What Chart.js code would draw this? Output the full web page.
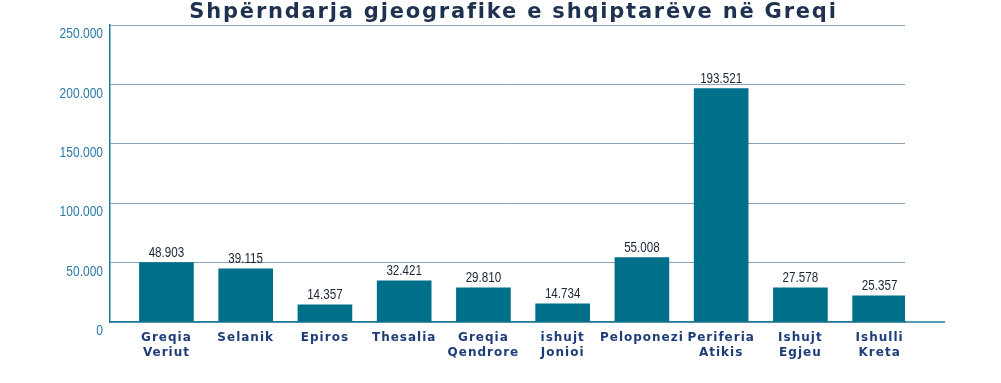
<!DOCTYPE html>
<html>
<head>
<meta charset="utf-8">
<script src="https://cdn.jsdelivr.net/npm/chart.js@4/dist/chart.umd.min.js"></script>
<style>
  html, body { margin: 0; padding: 0; background: #ffffff; }
  #wrap { width: 1001px; height: 383px; position: relative; }
</style>
</head>
<body>
<div id="wrap"><canvas id="c" width="1001" height="383"></canvas></div>
<script>
const titleText = 'Shpërndarja gjeografike e shqiptarëve në Greqi';
const categories = [
  ['Greqia', 'Veriut'], 'Selanik', 'Epiros', 'Thesalia', ['Greqia', 'Qendrore'],
  ['ishujt', 'Jonioi'], 'Peloponezi', ['Periferia', 'Atikis'], ['Ishujt', 'Egjeu'], ['Ishulli', 'Kreta']
];
// bar heights as drawn in the picture
const barValues = [50000, 44800, 14500, 34700, 28800, 15400, 54300, 196600, 28800, 22100];
// numbers printed above the bars
const valueLabels = ['48.903', '39.115', '14.357', '32.421', '29.810', '14.734', '55.008', '193.521', '27.578', '25.357'];
const yTicks = [0, 50000, 100000, 150000, 200000, 250000];

const fmt = v => String(v).replace(/\B(?=(\d{3})+(?!\d))/g, '.');
const NARROW = 0.8;

const valueLabelPlugin = {
  id: 'valueLabels',
  afterDatasetsDraw(chart) {
    const ctx = chart.ctx;
    const meta = chart.getDatasetMeta(0);
    meta.data.forEach((bar, i) => {
      ctx.save();
      ctx.font = "14px 'Liberation Sans', Arial, sans-serif";
      ctx.fillStyle = '#1b2535';
      ctx.textAlign = 'center';
      ctx.textBaseline = 'alphabetic';
      ctx.translate(bar.x, bar.y - 6);
      ctx.scale(NARROW + 0.03, 1);
      ctx.fillText(valueLabels[i], 0, 0);
      ctx.restore();
    });
  }
};

const stylePlugin = {
  id: 'textStyle',
  beforeDraw(chart) {
    const s = chart.scales.x;
    if (s && !s._lsPatched) {
      const orig = s.drawLabels.bind(s);
      s.drawLabels = function (area) {
        const ctx = this.ctx;
        const prev = ctx.letterSpacing;
        ctx.letterSpacing = '1px';
        orig(area);
        ctx.letterSpacing = prev;
      };
      s._lsPatched = true;
    }
    const y = chart.scales.y;
    if (y && !y._nPatched) {
      const origY = y.drawLabels.bind(y);
      y.drawLabels = function (area) {
        const ctx = this.ctx;
        const rx = this.right - this.options.ticks.padding;
        ctx.save();
        ctx.translate(rx, 0);
        ctx.scale(NARROW, 1);
        ctx.translate(-rx, 0);
        origY(area);
        ctx.restore();
      };
      y._nPatched = true;
    }
    const t = chart.titleBlock;
    if (t && !t._lsPatched) {
      const origT = t.draw.bind(t);
      t.draw = function () {
        const ctx = this.ctx;
        ctx.save();
        ctx.letterSpacing = '1.8px';
        ctx.translate(6, 0);
        origT();
        ctx.restore();
      };
      t._lsPatched = true;
    }
  },
  afterDraw(chart) {
    // x axis line continues past the last gridline
    const ctx = chart.ctx;
    const a = chart.chartArea;
    ctx.save();
    ctx.strokeStyle = '#1a7d9c';
    ctx.lineWidth = 1.5;
    ctx.beginPath();
    ctx.moveTo(a.right, a.bottom);
    ctx.lineTo(a.right + 40, a.bottom);
    ctx.stroke();
    ctx.restore();
  }
};

new Chart(document.getElementById('c'), {
  type: 'bar',
  data: {
    datasets: [{
      data: categories.map((c, i) => ({ x: i, y: barValues[i] })),
      backgroundColor: '#006f8a',
      borderWidth: 0,
      barThickness: 54
    }]
  },
  options: {
    responsive: false,
    animation: false,
    layout: { padding: { left: 0, right: 96, top: 0, bottom: 0 } },
    plugins: {
      legend: { display: false },
      tooltip: { enabled: false },
      title: {
        display: true,
        text: titleText,
        fullSize: false,
        color: '#1f3150',
        font: { family: "'DejaVu Sans', sans-serif", size: 21, weight: 'bold', lineHeight: 1.2 },
        padding: { top: 0, bottom: 0 }
      }
    },
    scales: {
      x: {
        type: 'linear',
        offset: false,
        min: -0.712,
        max: 9.32,
        grid: { display: false, drawTicks: false },
        border: { display: true, color: '#1a7d9c', width: 1.5 },
        ticks: {
          stepSize: 1,
          includeBounds: false,
          autoSkip: false,
          maxRotation: 0,
          padding: 8,
          color: '#1e3c78',
          font: { family: "'DejaVu Sans', sans-serif", size: 12, weight: 'bold', lineHeight: 1.25 },
          callback: v => Number.isInteger(v) && categories[v] !== undefined ? categories[v] : ''
        },
        afterFit: s => { s.height = 61; }
      },
      y: {
        min: yTicks[0],
        max: yTicks[yTicks.length - 1],
        afterBuildTicks: s => { s.ticks = yTicks.map(v => ({ value: v })); },
        grid: { color: '#8aa4b5', lineWidth: 1, drawTicks: false },
        border: { display: true, color: '#1a7d9c', width: 1.5 },
        ticks: {
          padding: 7,
          labelOffset: 9,
          color: '#2c7aa8',
          font: { family: "'Liberation Sans', Arial, sans-serif", size: 15 },
          callback: v => fmt(v)
        },
        afterFit: s => { s.width = 110; }
      }
    }
  },
  plugins: [valueLabelPlugin, stylePlugin]
});
</script>
</body>
</html>
